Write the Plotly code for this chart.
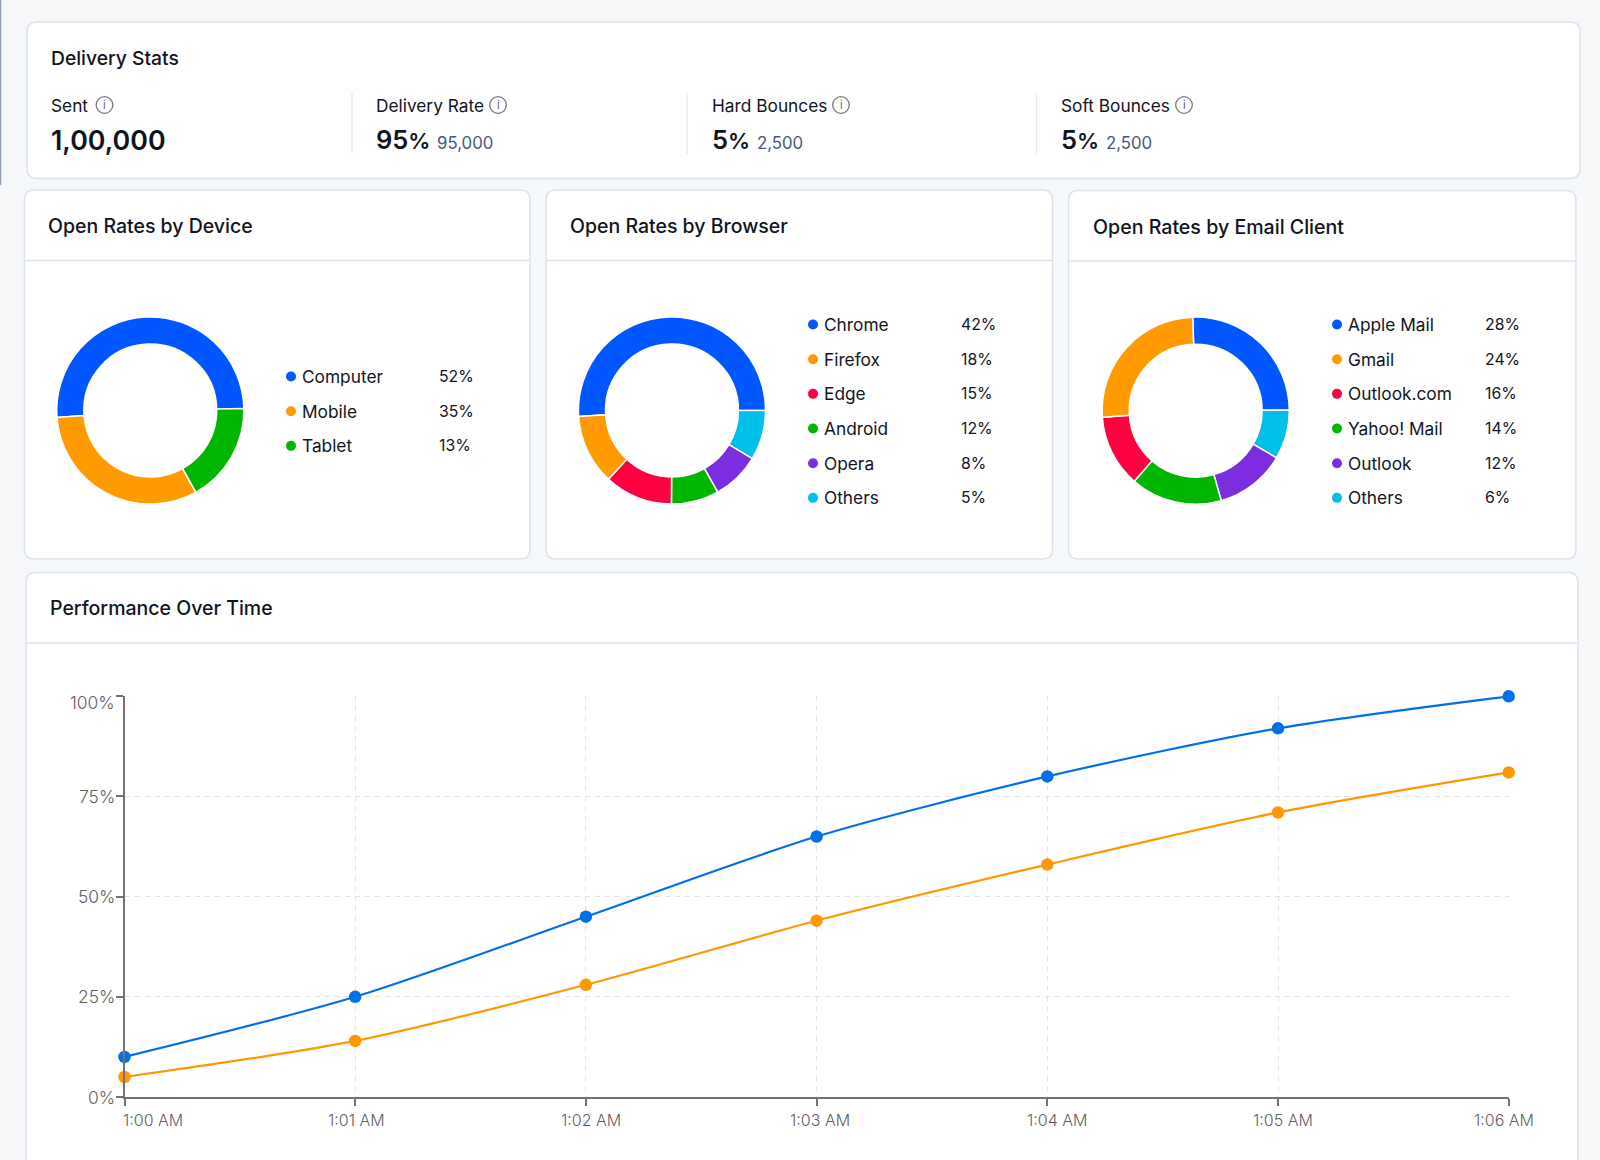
import plotly.graph_objects as go

W, H = 1600, 1160
FONT = "Inter"
INK = "#10141d"
MUTED = "#46587a"
AXIS = "#727272"
BORDER = "#dde3ee"

# delivery stats
stat_names = ["Sent", "Delivery Rate", "Hard Bounces", "Soft Bounces"]
stat_main = ["1,00,000", "95%", "5%", "5%"]
stat_sub = ["", "95,000", "2,500", "2,500"]

device_labels = ["Computer", "Mobile", "Tablet"]
device_legend = ["52%", "35%", "13%"]
device_arcs = [50.9, 31.9, 17.3]
device_colors = ["#0057ff", "#ff9a00", "#00b600"]

browser_labels = ["Chrome", "Firefox", "Edge", "Android", "Opera", "Others"]
browser_legend = ["42%", "18%", "15%", "12%", "8%", "5%"]
browser_arcs = [51.0, 12.1, 11.8, 8.2, 8.3, 8.6]

client_labels = ["Apple Mail", "Gmail", "Outlook.com", "Yahoo! Mail", "Outlook", "Others"]
client_legend = ["28%", "24%", "16%", "14%", "12%", "6%"]
client_arcs = [25.4, 25.6, 12.5, 15.8, 12.2, 8.5]

slice_colors = ["#0057ff", "#ff9a00", "#ff0040", "#00b600", "#7d2de0", "#00bfe8"]

# performance over time
times = ["1:00 AM", "1:01 AM", "1:02 AM", "1:03 AM", "1:04 AM", "1:05 AM", "1:06 AM"]
opens = [10, 25, 45, 65, 80, 92, 100]
clicks = [5, 14, 28, 44, 58, 71, 81]
y_ticks = [0, 25, 50, 75, 100]


def px(x):
    return x / W


def py(y):
    return 1 - y / H


def text(x, y, s, size=17, color=INK, weight=400, anchor="left"):
    # left anchored annotations carry a little padding
    if anchor == "left":
        x -= 1.7
    fig.add_annotation(
        x=px(x), y=py(y), xref="paper", yref="paper", text=s, showarrow=False,
        xanchor=anchor, yanchor="middle", borderpad=0,
        font=dict(family=FONT, size=size, color=color, weight=weight),
    )


def card(x0, y0, x1, y1, r=10):
    # rounded rectangle, corners as quadratic curves
    pts = [
        f"M{px(x0 + r)},{py(y0)}", f"L{px(x1 - r)},{py(y0)}",
        f"Q{px(x1)},{py(y0)} {px(x1)},{py(y0 + r)}", f"L{px(x1)},{py(y1 - r)}",
        f"Q{px(x1)},{py(y1)} {px(x1 - r)},{py(y1)}", f"L{px(x0 + r)},{py(y1)}",
        f"Q{px(x0)},{py(y1)} {px(x0)},{py(y1 - r)}", f"L{px(x0)},{py(y0 + r)}",
        f"Q{px(x0)},{py(y0)} {px(x0 + r)},{py(y0)}", "Z",
    ]
    fig.add_shape(
        type="path", path=" ".join(pts), xref="paper", yref="paper", layer="below",
        fillcolor="white", line=dict(color=BORDER, width=1.5),
    )


def hline(x0, x1, y, color=BORDER, width=1.5):
    fig.add_shape(
        type="line", xref="paper", yref="paper", layer="below",
        x0=px(x0), x1=px(x1), y0=py(y), y1=py(y), line=dict(color=color, width=width),
    )


def vline(x, y0, y1, color="#e4e6ea", width=1.2):
    fig.add_shape(
        type="line", xref="paper", yref="paper", layer="below",
        x0=px(x), x1=px(x), y0=py(y0), y1=py(y1), line=dict(color=color, width=width),
    )


def dot(x, y, r, fill=None, line=None):
    fig.add_shape(
        type="circle", xref="paper", yref="paper",
        x0=px(x - r), x1=px(x + r), y0=py(y - r), y1=py(y + r),
        fillcolor=fill or "rgba(0,0,0,0)",
        line=dict(color=line or fill, width=1.3 if line else 0),
    )


def donut(cx, cy, labels, arcs, colors, order, rotation, r=93.6):
    fig.add_trace(go.Pie(
        labels=[labels[i] for i in order],
        values=[arcs[i] for i in order],
        marker=dict(colors=[colors[i] for i in order], line=dict(color="white", width=1.5)),
        hole=0.71, sort=False, direction="clockwise", rotation=rotation,
        textinfo="none", showlegend=False,
        domain=dict(x=[px(cx - r), px(cx + r)], y=[py(cy + r), py(cy - r)]),
    ))


def legend_block(dot_x, label_x, pct_x, first_y, labels, pcts, colors):
    for i, (name, pct) in enumerate(zip(labels, pcts)):
        y = first_y + i * 34.67
        dot(dot_x, y, 5, fill=colors[i])
        text(label_x, y, name, size=17.3)
        text(pct_x, y, pct, size=15.8)


fig = go.Figure()

# page chrome
vline(0.5, 0, 185, color="#8b9bb5", width=1.5)
card(27, 22, 1580, 178.5)
card(24.5, 190, 530, 559)
card(546, 190, 1052.5, 559)
card(1068.5, 190.5, 1576, 559)
card(26, 572.5, 1578, 1180)
hline(24.5, 530, 260.5)
hline(546, 1052.5, 260.5)
hline(1068.5, 1576, 261)
hline(26, 1578, 643)

# delivery stats
text(51.5, 58, "Delivery Stats", size=19.3, weight=550)
name_x = [51.5, 377, 712.3, 1061.5]
icon_x = [104.5, 498, 841, 1184]
sub_x = [0, 438, 757.5, 1107]
for i, name in enumerate(stat_names):
    text(name_x[i], 105, name, size=17.3)
    dot(icon_x[i], 105, 8.3, line="#777777")
    text(icon_x[i], 105, "i", size=11, color="#666666", anchor="center")
    # the percent sign is narrower in the original than in Inter
    if "%" in stat_main[i]:
        main = stat_main[i].replace("%", '<span style="font-size:22px">%</span>')
        text(name_x[i], 139.5, main, size=25.5, weight=600)
    else:
        text(name_x[i], 139.5, stat_main[i], size=26.8, weight=600)
    if stat_sub[i]:
        text(sub_x[i], 143, stat_sub[i], size=16.8, color=MUTED)
for x in [352, 687, 1036.5]:
    vline(x, 93, 154)

# card titles
text(48.5, 226, "Open Rates by Device", size=19.5, weight=550)
text(570.5, 226, "Open Rates by Browser", size=19.5, weight=550)
text(1094, 226.5, "Open Rates by Email Client", size=19.6, weight=550)
text(51, 608.4, "Performance Over Time", size=19.5, weight=550)

# donuts, the rings run clockwise from the blue slice
donut(150.3, 410.5, device_labels, device_arcs, device_colors, [0, 2, 1], 265.7)
donut(672, 410.5, browser_labels, browser_arcs, slice_colors, [0, 5, 4, 3, 2, 1], 266.4)
donut(1195.7, 410.7, client_labels, client_arcs, slice_colors, [0, 5, 4, 3, 2, 1], -1.8)

legend_block(291, 303, 440, 376.5, device_labels, device_legend, device_colors)
legend_block(813, 824.8, 962, 324.5, browser_labels, browser_legend, slice_colors)
legend_block(1337, 1348.5, 1486, 324.5, client_labels, client_legend, slice_colors)

# line chart
for values, color in [(opens, "#0070e8"), (clicks, "#ff9800")]:
    fig.add_trace(go.Scatter(
        x=times, y=values, mode="lines+markers", cliponaxis=False, showlegend=False,
        line=dict(color=color, width=2.2, shape="spline", smoothing=0.8),
        marker=dict(color=color, size=12.5),
    ))

GRID = dict(showgrid=True, gridcolor="#dfe1e6", griddash="5px,5px", gridwidth=1.2)
fig.update_xaxes(
    **GRID, type="category", categoryorder="array", categoryarray=times, range=[0, 6],
    domain=[px(124.5), px(1508.7)], anchor="y", showticklabels=False, zeroline=False,
    showline=True, linecolor=AXIS, linewidth=1.5,
    ticks="outside", ticklen=7, tickcolor=AXIS, tickwidth=1.5,
)
fig.update_yaxes(
    **GRID, range=[0, 100], tickvals=y_ticks, domain=[py(1097), py(696.3)],
    anchor="x", showticklabels=False, zeroline=False,
    showline=True, linecolor=AXIS, linewidth=1.5,
    ticks="outside", ticklen=7, tickcolor=AXIS, tickwidth=1.5,
)

# tick labels sit a little off their ticks in the original
x_nudge = [28, 1, 5, 3, 10, 5, -5]
for t, dx in zip(times, x_nudge):
    fig.add_annotation(
        x=t, y=0, xref="x", yref="y", text=t, showarrow=False, xanchor="center",
        yanchor="top", xshift=dx, yshift=-12, borderpad=0,
        font=dict(family=FONT, size=16, color="#5f5f5f", weight=300),
    )
y_nudge = {100: -6, 0: -0.5}
for v in y_ticks:
    fig.add_annotation(
        x=0, y=v, xref="x", yref="y", text=f"{v}%", showarrow=False, xanchor="right",
        yanchor="middle", xshift=-8.5, yshift=y_nudge.get(v, 0), borderpad=0,
        font=dict(family=FONT, size=17.4, color="#5f5f5f", weight=300),
    )

fig.update_layout(
    width=W, height=H, margin=dict(l=0, r=0, t=0, b=0), autosize=False,
    paper_bgcolor="#f6f8fa", plot_bgcolor="rgba(0,0,0,0)",
    font=dict(family=FONT, color=INK),
)

fig.write_html(
    "out.html",
    config={"displayModeBar": False},
    post_script="document.body.style.margin='0';",
)
